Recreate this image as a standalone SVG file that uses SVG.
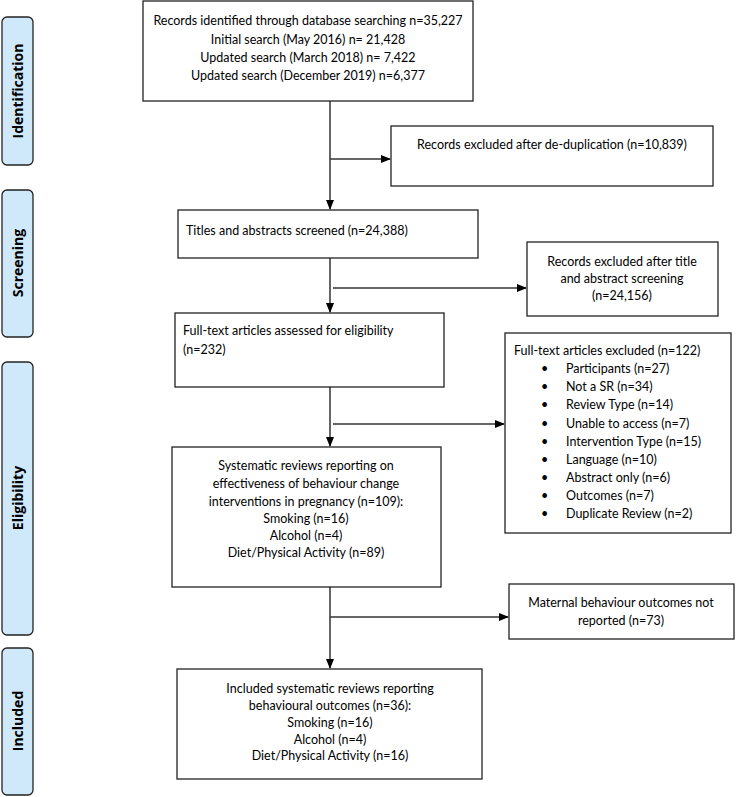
<svg xmlns="http://www.w3.org/2000/svg" width="737" height="797" viewBox="0 0 737 797">
<defs>
<marker id="ah" markerWidth="10" markerHeight="8" refX="9" refY="4" orient="auto" markerUnits="userSpaceOnUse">
<path d="M0,0 L10,4 L0,8 Z" fill="#000"/>
</marker>
<style>
.box{fill:#fff;stroke:#222;stroke-width:1.3}
.side{fill:#cfe9fb;stroke:#222;stroke-width:1.3}
.t{font-family:Lato,"Liberation Sans",sans-serif;font-size:12.5px;fill:#000}
.c{text-anchor:middle}
.sl{font-family:"Open Sans","Liberation Sans",sans-serif;font-size:14px;font-weight:bold;fill:#000;text-anchor:middle}
.ln{fill:none;stroke:#333;stroke-width:1.5}
</style>
</defs>
<rect width="737" height="797" fill="#fff"/>

<g id="side-identification">
<rect class="side" x="2" y="17" width="31" height="148" rx="5"/>
<text class="sl" transform="translate(23,91) rotate(-90)">Identification</text>
</g>
<g id="side-screening">
<rect class="side" x="2" y="190" width="31" height="147" rx="5"/>
<text class="sl" transform="translate(23,263) rotate(-90)">Screening</text>
</g>
<g id="side-eligibility">
<rect class="side" x="2" y="362" width="31" height="273" rx="5"/>
<text class="sl" transform="translate(23,498) rotate(-90)">Eligibility</text>
</g>
<g id="side-included">
<rect class="side" x="2" y="648" width="31" height="147" rx="5"/>
<text class="sl" transform="translate(23,721) rotate(-90)">Included</text>
</g>

<g id="connectors">
<line class="ln" x1="330" y1="101" x2="330" y2="209" marker-end="url(#ah)"/>
<line class="ln" x1="330" y1="159" x2="390" y2="159" marker-end="url(#ah)"/>
<line class="ln" x1="330" y1="258" x2="330" y2="312" marker-end="url(#ah)"/>
<line class="ln" x1="333" y1="288" x2="526" y2="288" marker-end="url(#ah)"/>
<line class="ln" x1="330" y1="387" x2="330" y2="446" marker-end="url(#ah)"/>
<line class="ln" x1="333" y1="424" x2="504" y2="424" marker-end="url(#ah)"/>
<line class="ln" x1="330" y1="587" x2="330" y2="668" marker-end="url(#ah)"/>
<line class="ln" x1="330" y1="617" x2="508" y2="617" marker-end="url(#ah)"/>
</g>

<g id="records-identified">
<rect class="box" x="143" y="1" width="330" height="100"/>
<text class="t c" x="308" y="25">Records identified through database searching n=35,227</text>
<text class="t c" x="308" y="44">Initial search (May 2016) n= 21,428</text>
<text class="t c" x="308" y="62">Updated search (March 2018) n= 7,422</text>
<text class="t c" x="308" y="80">Updated search (December 2019) n=6,377</text>
</g>

<g id="excluded-dedup">
<rect class="box" x="391" y="126" width="322" height="60"/>
<text class="t c" x="552" y="149">Records excluded after de-duplication (n=10,839)</text>
</g>

<g id="titles-screened">
<rect class="box" x="178" y="210" width="300" height="48"/>
<text class="t" x="186" y="235">Titles and abstracts screened (n=24,388)</text>
</g>

<g id="excluded-title">
<rect class="box" x="527" y="242" width="191" height="74"/>
<text class="t c" x="622" y="266">Records excluded after title</text>
<text class="t c" x="622" y="283">and abstract screening</text>
<text class="t c" x="622" y="300">(n=24,156)</text>
</g>

<g id="fulltext-assessed">
<rect class="box" x="175" y="313" width="269" height="74"/>
<text class="t" x="183" y="335">Full-text articles assessed for eligibility</text>
<text class="t" x="183" y="354">(n=232)</text>
</g>

<g id="fulltext-excluded">
<rect class="box" x="505" y="333" width="226" height="200"/>
<text class="t" x="514" y="355">Full-text articles excluded (n=122)</text>
<g class="t">
<text x="541" y="373">•</text><text x="566" y="373">Participants (n=27)</text>
<text x="541" y="391">•</text><text x="566" y="391">Not a SR (n=34)</text>
<text x="541" y="409">•</text><text x="566" y="409">Review Type (n=14)</text>
<text x="541" y="428">•</text><text x="566" y="428">Unable to access (n=7)</text>
<text x="541" y="446">•</text><text x="566" y="446">Intervention Type (n=15)</text>
<text x="541" y="464">•</text><text x="566" y="464">Language (n=10)</text>
<text x="541" y="482">•</text><text x="566" y="482">Abstract only (n=6)</text>
<text x="541" y="500">•</text><text x="566" y="500">Outcomes (n=7)</text>
<text x="541" y="518">•</text><text x="566" y="518">Duplicate Review (n=2)</text>
</g>
</g>

<g id="systematic-reviews">
<rect class="box" x="172" y="447" width="269" height="140"/>
<text class="t c" x="306" y="470">Systematic reviews reporting on</text>
<text class="t c" x="306" y="488">effectiveness of behaviour change</text>
<text class="t c" x="306" y="506">interventions in pregnancy (n=109):</text>
<text class="t c" x="306" y="523">Smoking (n=16)</text>
<text class="t c" x="306" y="540">Alcohol (n=4)</text>
<text class="t c" x="306" y="557">Diet/Physical Activity (n=89)</text>
</g>

<g id="maternal-not-reported">
<rect class="box" x="509" y="584" width="225" height="55"/>
<text class="t c" x="621" y="607">Maternal behaviour outcomes not</text>
<text class="t c" x="621" y="625">reported (n=73)</text>
</g>

<g id="included-reviews">
<rect class="box" x="177" y="669" width="305" height="110"/>
<text class="t c" x="330" y="693">Included systematic reviews reporting</text>
<text class="t c" x="330" y="710">behavioural outcomes (n=36):</text>
<text class="t c" x="330" y="727">Smoking (n=16)</text>
<text class="t c" x="330" y="744">Alcohol (n=4)</text>
<text class="t c" x="330" y="760">Diet/Physical Activity (n=16)</text>
</g>
</svg>
